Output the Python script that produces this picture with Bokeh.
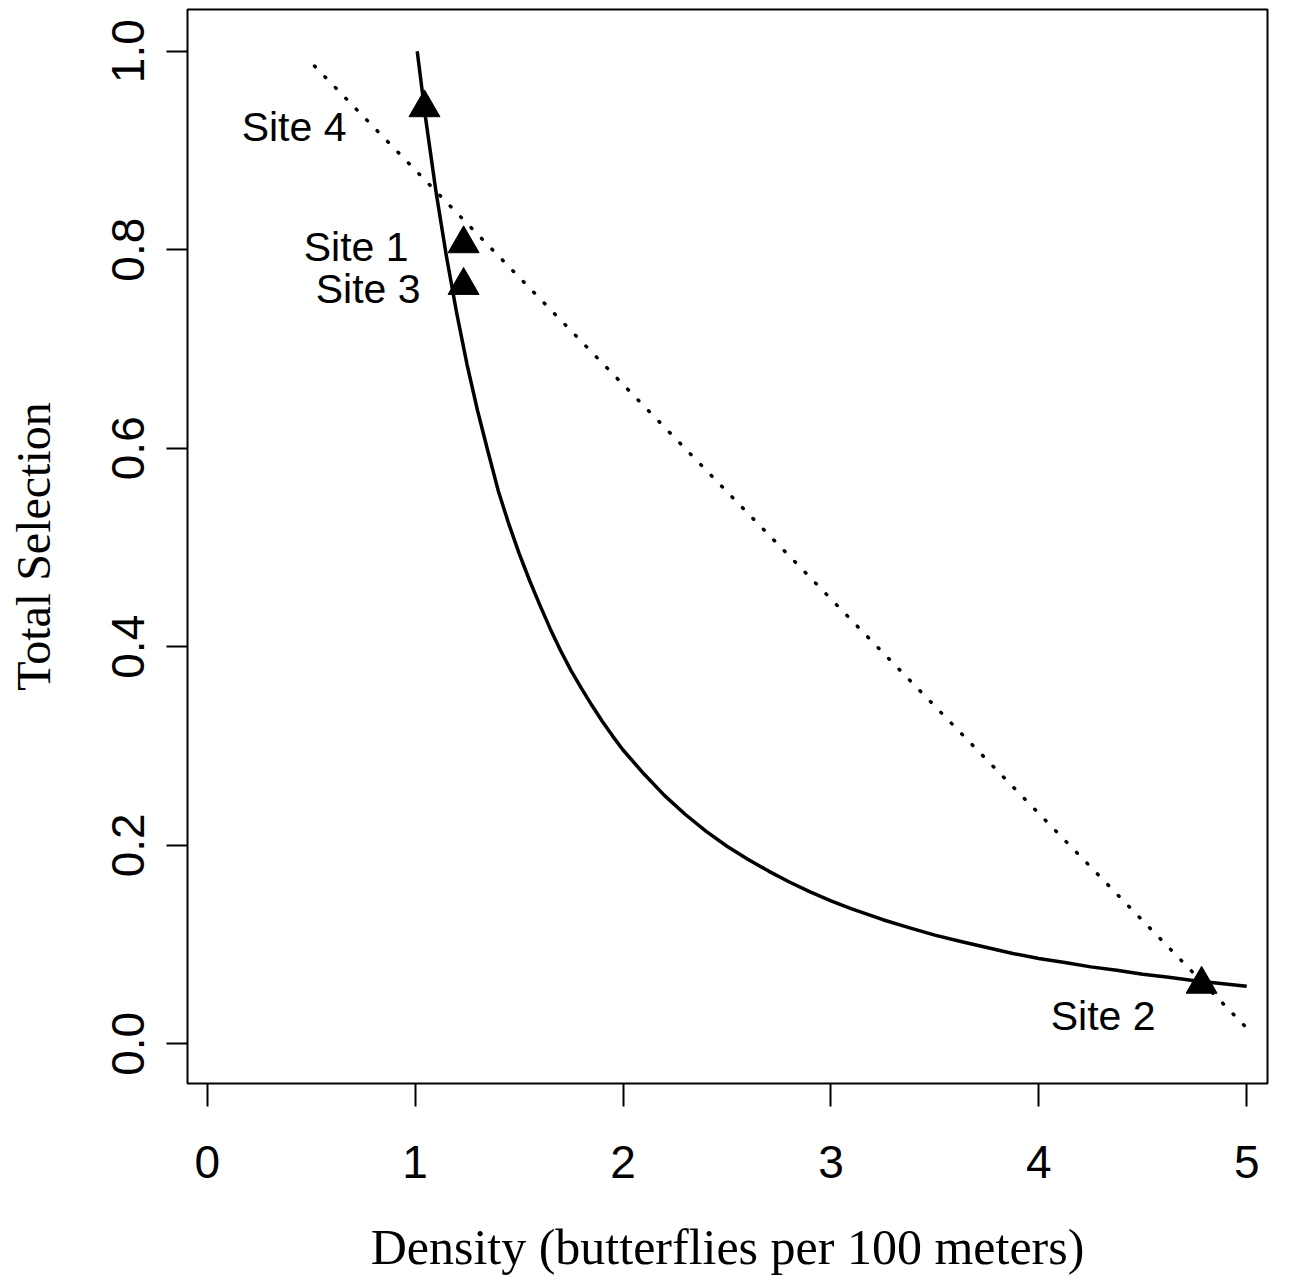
from bokeh.plotting import figure
from bokeh.models import ColumnDataSource, FixedTicker, NumeralTickFormatter, Range1d
from bokeh.core.properties import value
from bokeh.embed import file_html
from bokeh.resources import INLINE

# ---- data ----
site_labels = ["Site 4", "Site 1", "Site 3", "Site 2"]
site_density = [1.045, 1.233, 1.233, 4.783]
site_selection = [0.943, 0.806, 0.764, 0.060]

curve_density = [1.01, 1.05, 1.10, 1.15, 1.20, 1.25, 1.30, 1.35, 1.40, 1.45,
                 1.50, 1.55, 1.60, 1.65, 1.70, 1.75, 1.80, 1.85, 1.90, 1.95,
                 2.00, 2.10, 2.20, 2.30, 2.40, 2.50, 2.60, 2.70, 2.80, 2.90,
                 3.00, 3.10, 3.25, 3.375, 3.50, 3.625, 3.75, 3.875, 4.00, 4.125,
                 4.25, 4.375, 4.50, 4.625, 4.75, 4.875, 5.00]
curve_selection = [1.000, 0.933, 0.859, 0.794, 0.736, 0.684, 0.638, 0.597, 0.557, 0.524,
                   0.494, 0.467, 0.442, 0.418, 0.396, 0.376, 0.358, 0.341, 0.325, 0.310,
                   0.296, 0.272, 0.250, 0.231, 0.214, 0.199, 0.186, 0.174, 0.163, 0.153,
                   0.144, 0.136, 0.125, 0.117, 0.1095, 0.103, 0.097, 0.091, 0.086, 0.082,
                   0.0775, 0.074, 0.070, 0.067, 0.0636, 0.0607, 0.058]

trend_density = [0.516, 4.995]
trend_selection = [0.985, 0.017]

x_ticks = [0, 1, 2, 3, 4, 5]
y_ticks = [0.0, 0.2, 0.4, 0.6, 0.8, 1.0]

# label offsets (screen pixels, style only)
label_dx = [-78, -55, -43, -46]
label_dy = [19, 3, 4, 32]

p = figure(width=1299, height=1280, output_backend="svg", toolbar_location=None,
           x_range=Range1d(-0.095, 5.10), y_range=Range1d(-0.040, 1.042),
           min_border_left=187, min_border_right=32, min_border_top=9,
           min_border_bottom=197)
p.background_fill_color = "white"
p.border_fill_color = "white"
p.outline_line_color = "black"
p.outline_line_width = 2
p.xgrid.visible = False
p.ygrid.visible = False

for ax in (p.xaxis[0], p.yaxis[0]):
    ax.axis_line_color = None
    ax.major_tick_line_color = "black"
    ax.major_tick_line_width = 2
    ax.major_tick_in = 0
    ax.minor_tick_line_color = None
    ax.major_label_text_font = "Liberation Sans"
    ax.major_label_text_font_size = "46px"
    ax.major_label_text_color = "black"
    ax.axis_label_text_font = "Liberation Serif"
    ax.axis_label_text_font_style = "normal"
    ax.axis_label_text_color = "black"

p.xaxis[0].ticker = FixedTicker(ticks=x_ticks)
p.xaxis[0].formatter = NumeralTickFormatter(format="0")
p.xaxis[0].major_tick_out = 23
p.xaxis[0].major_label_standoff = 39
p.xaxis[0].axis_label = "Density (butterflies per 100 meters)"
p.xaxis[0].axis_label_text_font_size = "50px"
p.xaxis[0].axis_label_standoff = 38

p.yaxis[0].ticker = FixedTicker(ticks=y_ticks)
p.yaxis[0].formatter = NumeralTickFormatter(format="0.0")
p.yaxis[0].major_tick_out = 21
p.yaxis[0].major_label_standoff = 22
p.yaxis[0].major_label_orientation = "vertical"
p.yaxis[0].axis_label = "Total Selection"
p.yaxis[0].axis_label_text_font_size = "48px"
p.yaxis[0].axis_label_standoff = 50

p.line(curve_density, curve_selection, line_color="black", line_width=3.5,
       line_join="round")
p.line(trend_density, trend_selection, line_color="black", line_width=3.5,
       line_dash="1 14", line_cap="round")

src = ColumnDataSource(dict(x=site_density, y=site_selection, label=site_labels,
                            dx=label_dx, dy=label_dy))
p.scatter("x", "y", source=src, marker="triangle", size=31,
          fill_color="black", line_color="black")
p.text("x", "y", text="label", source=src, x_offset="dx", y_offset="dy",
       text_align="right", text_baseline="middle",
       text_font=value("Liberation Sans"), text_font_size="41px", text_color="black")

open("out.html", "w").write(file_html(p, INLINE))
